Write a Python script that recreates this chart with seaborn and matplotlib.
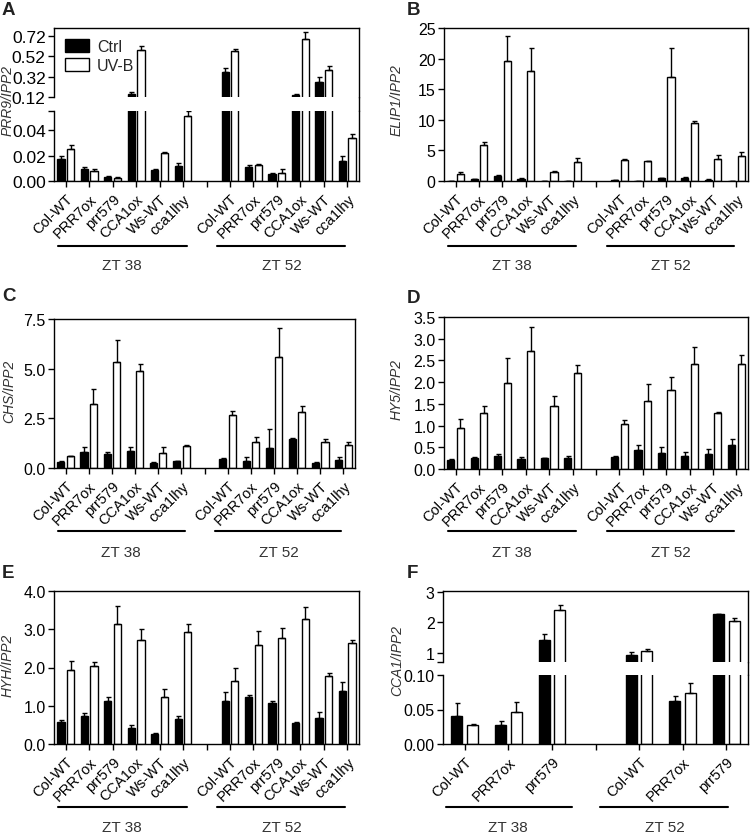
import numpy as np
import pandas as pd
import seaborn as sns
import matplotlib
matplotlib.use("Agg")
import matplotlib.pyplot as plt
import matplotlib.transforms as mtransforms
from matplotlib.lines import Line2D

genotypes = ["Col-WT", "PRR7ox", "prr579", "CCA1ox", "Ws-WT", "cca1lhy"]
genotypes_f = ["Col-WT", "PRR7ox", "prr579"]
timepoints = ["ZT 38", "ZT 52"]
treatments = ["Ctrl", "UV-B"]

# A  PRR9/IPP2  (ZT38 x6, ZT52 x6)
prr9_ctrl = [0.017, 0.0092, 0.0034, 0.152, 0.0087, 0.0118, 0.37, 0.011, 0.0058, 0.143, 0.27, 0.0158]
prr9_ctrl_err = [0.003, 0.0018, 0.0006, 0.02, 0.001, 0.0022, 0.035, 0.0016, 0.0004, 0.003, 0.05, 0.0039]
prr9_uvb = [0.0255, 0.0079, 0.0026, 0.58, 0.0218, 0.0513, 0.574, 0.0126, 0.0066, 0.694, 0.39, 0.0334]
prr9_uvb_err = [0.003, 0.0013, 0.0005, 0.043, 0.0008, 0.0034, 0.023, 0.0008, 0.0031, 0.065, 0.038, 0.0034]

# B  ELIP1/IPP2
elip1_ctrl = [0.05, 0.27, 0.8, 0.38, 0.05, 0.05, 0.15, 0.05, 0.44, 0.5, 0.22, 0.05]
elip1_ctrl_err = [0.02, 0.08, 0.1, 0.08, 0.02, 0.02, 0.05, 0.02, 0.1, 0.08, 0.05, 0.02]
elip1_uvb = [1.2, 5.85, 19.6, 18.05, 1.48, 3.17, 3.5, 3.28, 17.07, 9.4, 3.6, 4.1]
elip1_uvb_err = [0.25, 0.45, 4.1, 3.65, 0.1, 0.55, 0.16, 0.05, 4.7, 0.34, 0.6, 0.7]

# C  CHS/IPP2
chs_ctrl = [0.3, 0.8, 0.69, 0.85, 0.27, 0.33, 0.45, 0.37, 1.0, 1.44, 0.27, 0.4]
chs_ctrl_err = [0.05, 0.26, 0.11, 0.2, 0.04, 0.02, 0.04, 0.16, 0.96, 0.08, 0.02, 0.14]
chs_uvb = [0.58, 3.2, 5.36, 4.89, 0.77, 1.12, 2.65, 1.3, 5.58, 2.8, 1.29, 1.14]
chs_uvb_err = [0.04, 0.77, 1.1, 0.35, 0.27, 0.03, 0.2, 0.24, 1.46, 0.3, 0.16, 0.17]

# D  HY5/IPP2
hy5_ctrl = [0.2, 0.25, 0.31, 0.23, 0.25, 0.26, 0.28, 0.44, 0.37, 0.31, 0.35, 0.55]
hy5_ctrl_err = [0.02, 0.02, 0.03, 0.05, 0.01, 0.03, 0.01, 0.11, 0.14, 0.07, 0.1, 0.15]
hy5_uvb = [0.95, 1.28, 1.98, 2.72, 1.46, 2.22, 1.04, 1.56, 1.83, 2.42, 1.28, 2.42]
hy5_uvb_err = [0.19, 0.17, 0.57, 0.56, 0.23, 0.18, 0.09, 0.39, 0.29, 0.38, 0.04, 0.2]

# E  HYH/IPP2
hyh_ctrl = [0.57, 0.74, 1.12, 0.43, 0.27, 0.66, 1.12, 1.23, 1.07, 0.56, 0.68, 1.38]
hyh_ctrl_err = [0.06, 0.06, 0.11, 0.07, 0.02, 0.06, 0.23, 0.06, 0.05, 0.02, 0.15, 0.25]
hyh_uvb = [1.94, 2.03, 3.14, 2.73, 1.24, 2.94, 1.66, 2.59, 2.77, 3.27, 1.77, 2.65]
hyh_uvb_err = [0.22, 0.11, 0.48, 0.28, 0.19, 0.2, 0.32, 0.37, 0.26, 0.31, 0.09, 0.08]

# F  CCA1/IPP2  (ZT38 x3, ZT52 x3)
cca1_ctrl = [0.041, 0.027, 1.42, 0.92, 0.0625, 2.26]
cca1_ctrl_err = [0.018, 0.006, 0.21, 0.11, 0.0072, 0.02]
cca1_uvb = [0.028, 0.046, 2.4, 1.06, 0.0736, 2.03]
cca1_uvb_err = [0.001, 0.015, 0.16, 0.08, 0.0154, 0.13]

sns.set_style("ticks")
plt.rcParams["font.family"] = ["Liberation Sans", "DejaVu Sans"]
plt.rcParams["axes.linewidth"] = 1.0

W, H = 751, 837
fig = plt.figure(figsize=(W / 100, H / 100), dpi=100)
palette = {"Ctrl": "black", "UV-B": "white"}
TXT = "#333333"


def box(l, r, t, b):
    return [l / W, 1 - b / H, (r - l) / W, (b - t) / H]


def make_df(genos, ctrl, ctrl_err, uvb, uvb_err):
    rows = []
    n = len(genos)
    for i, tp in enumerate(timepoints):
        for j, g in enumerate(genos):
            k = i * n + j
            rows.append((f"{tp}|{g}", "Ctrl", ctrl[k], ctrl_err[k]))
            rows.append((f"{tp}|{g}", "UV-B", uvb[k], uvb_err[k]))
    df = pd.DataFrame(rows, columns=["key", "treatment", "value", "err"])
    order = [f"ZT 38|{g}" for g in genos] + ["gap"] + [f"ZT 52|{g}" for g in genos]
    labels = list(genos) + [""] + list(genos)
    return df, order, labels


def draw_bars(ax, df, order, width, gap, legend=False, ysize=11.5):
    sns.barplot(data=df, x="key", y="value", hue="treatment", order=order,
                hue_order=treatments, palette=palette, edgecolor="black",
                linewidth=1.0, width=width, gap=gap, errorbar=None,
                legend=legend, ax=ax)
    errs = df.set_index(["key", "treatment"])["err"]
    bar_conts = list(ax.containers)
    for cont, trt in zip(bar_conts, treatments):
        for bar in cont:
            xc = bar.get_x() + bar.get_width() / 2
            key = order[int(round(xc))]
            ax.errorbar(xc, bar.get_height(), yerr=[[0], [errs[(key, trt)]]],
                        fmt="none", ecolor="black", elinewidth=1.0,
                        capsize=1.8, capthick=1.0, zorder=3)
    ax.set_xlim(-0.5, len(order) - 0.5)
    ax.set_xlabel("")
    ax.set_ylabel("")
    ax.tick_params(axis="both", direction="out", length=4, width=1,
                   colors="black")
    ax.tick_params(axis="y", labelsize=ysize, pad=2)
    for s in ax.spines.values():
        s.set_color("black")


def set_xlabels(ax, order, labels):
    ax.set_xticks(range(len(order)))
    ax.set_xticklabels(labels, rotation=45, ha="right", rotation_mode="anchor",
                       fontsize=10.5)


def groups(ax, spans, text_x, line_y, text_y):
    tr = mtransforms.blended_transform_factory(ax.transData, fig.transFigure)
    for (x0, x1), tx, tp in zip(spans, text_x, timepoints):
        ax.add_line(Line2D([x0, x1], [1 - line_y / H] * 2, transform=tr,
                           color="black", lw=1.5, clip_on=False))
        ax.text(tx, 1 - text_y / H, tp, transform=tr, ha="center", va="center",
                fontsize=11, color=TXT)


def ylab(x, y, s):
    fig.text(x / W, 1 - y / H, s, rotation=90, ha="center", va="center",
             fontsize=10, style="italic", color=TXT)


def letter(x, y, s):
    fig.text(x / W, 1 - y / H, s, ha="left", va="top", fontsize=13.5,
             fontweight="bold", color="#222222")


spans6 = [(-0.33, 5.15), (6.45, 11.9)]
tx6 = [2.4, 9.2]

# ---- A (broken axis)
df, order, labels = make_df(genotypes, prr9_ctrl, prr9_ctrl_err, prr9_uvb, prr9_uvb_err)
axAt = fig.add_axes(box(54, 359, 29, 98))
axAb = fig.add_axes(box(54, 359, 112, 182))
draw_bars(axAt, df, order, 0.82, 0.25, legend=True, ysize=12.5)
draw_bars(axAb, df, order, 0.82, 0.25, ysize=12.5)
axAt.set_ylim(0.12, 0.80)
axAt.set_yticks([0.12, 0.32, 0.52, 0.72])
axAt.set_yticklabels(["0.12", "0.32", "0.52", "0.72"])
axAt.spines["bottom"].set_visible(False)
axAt.tick_params(axis="x", bottom=False, labelbottom=False)
axAb.set_ylim(0, 0.055)
axAb.set_yticks([0, 0.02, 0.04, 0.055])
axAb.set_yticklabels(["0.00", "0.02", "0.04", ""])
axAb.spines["top"].set_visible(False)
set_xlabels(axAb, order, labels)
h, l = axAt.get_legend_handles_labels()
axAt.legend(h, l, loc="upper left", bbox_to_anchor=(0.0, 1.0), frameon=False,
            fontsize=11.5, handlelength=1.5, handleheight=0.9, handletextpad=0.5,
            labelspacing=0.2, borderaxespad=0.3)
xr = 359 / W
fig.add_artist(Line2D([xr, xr], [1 - 112 / H, 1 - 98 / H], color="black", lw=1.0))
groups(axAb, spans6, tx6, 247, 266)
ylab(8, 101, "PRR9/IPP2")
letter(2, 2, "A")

# ---- B
df, order, labels = make_df(genotypes, elip1_ctrl, elip1_ctrl_err, elip1_uvb, elip1_uvb_err)
axB = fig.add_axes(box(444, 748, 29, 182))
draw_bars(axB, df, order, 0.82, 0.25)
axB.set_ylim(0, 25)
axB.set_yticks([0, 5, 10, 15, 20, 25])
set_xlabels(axB, order, labels)
groups(axB, spans6, tx6, 247, 266)
ylab(397, 100, "ELIP1/IPP2")
letter(407, 2, "B")

# ---- C
df, order, labels = make_df(genotypes, chs_ctrl, chs_ctrl_err, chs_uvb, chs_uvb_err)
axC = fig.add_axes(box(54, 355, 320, 469))
draw_bars(axC, df, order, 0.82, 0.25)
axC.set_ylim(0, 7.5)
axC.set_yticks([0, 2.5, 5.0, 7.5])
axC.set_yticklabels(["0.0", "2.5", "5.0", "7.5"])
set_xlabels(axC, order, labels)
groups(axC, spans6, tx6, 532, 553)
ylab(9, 391, "CHS/IPP2")
letter(2, 288, "C")

# ---- D
df, order, labels = make_df(genotypes, hy5_ctrl, hy5_ctrl_err, hy5_uvb, hy5_uvb_err)
axD = fig.add_axes(box(444, 748, 318, 470))
draw_bars(axD, df, order, 0.82, 0.25)
axD.set_ylim(0, 3.5)
axD.set_yticks(np.arange(0, 3.51, 0.5))
axD.set_yticklabels([f"{v:.1f}" for v in np.arange(0, 3.51, 0.5)])
set_xlabels(axD, order, labels)
groups(axD, spans6, tx6, 532, 553)
ylab(397, 390, "HY5/IPP2")
letter(407, 290, "D")

# ---- E
df, order, labels = make_df(genotypes, hyh_ctrl, hyh_ctrl_err, hyh_uvb, hyh_uvb_err)
axE = fig.add_axes(box(54, 359, 592, 745))
draw_bars(axE, df, order, 0.82, 0.25)
axE.set_ylim(0, 4.0)
axE.set_yticks([0, 1, 2, 3, 4])
axE.set_yticklabels(["0.0", "1.0", "2.0", "3.0", "4.0"])
set_xlabels(axE, order, labels)
groups(axE, spans6, tx6, 808, 828)
ylab(8, 665, "HYH/IPP2")
letter(2, 565, "E")

# ---- F (broken axis)
df, order, labels = make_df(genotypes_f, cca1_ctrl, cca1_ctrl_err, cca1_uvb, cca1_uvb_err)
axFt = fig.add_axes(box(443, 748, 592, 663))
axFb = fig.add_axes(box(443, 748, 676, 745))
draw_bars(axFt, df, order, 0.72, 0.3)
draw_bars(axFb, df, order, 0.72, 0.3)
axFt.set_ylim(0.7, 3.03)
axFt.set_yticks([0.7, 1, 2, 3])
axFt.set_yticklabels(["", "1", "2", "3"])
axFt.spines["bottom"].set_visible(False)
axFt.tick_params(axis="x", bottom=False, labelbottom=False)
axFb.set_ylim(0, 0.10)
axFb.set_yticks([0, 0.05, 0.10])
axFb.set_yticklabels(["0.00", "0.05", "0.10"])
axFb.spines["top"].set_visible(False)
set_xlabels(axFb, order, labels)
xr = 748 / W
fig.add_artist(Line2D([xr, xr], [1 - 676 / H, 1 - 663 / H], color="black", lw=1.0))
groups(axFb, [(-0.43, 2.45), (3.1, 6.05)], [1.0, 4.6], 808, 828)
ylab(397, 661, "CCA1/IPP2")
letter(407, 565, "F")

fig.savefig("out.png", dpi=100)
